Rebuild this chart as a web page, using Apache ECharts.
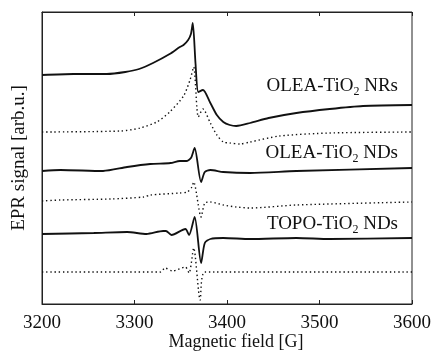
<!DOCTYPE html>
<html>
<head>
<meta charset="utf-8">
<script src="https://cdn.jsdelivr.net/npm/echarts@6/dist/echarts.min.js"></script>
<style>
  html, body { margin: 0; padding: 0; background: #fff; }
  #chart { width: 433px; height: 354px; }
</style>
</head>
<body>
<div id="chart"></div>
<script>
// magnetic field [G] vs EPR signal [arb.u.] (traces offset vertically)
const xTicks = [3200, 3300, 3400, 3500, 3600];
const sampleLabels = ["OLEA-TiO{s|2} NRs", "OLEA-TiO{s|2} NDs", "TOPO-TiO{s|2} NDs"];

// OLEA-TiO2 NRs, measured (solid)
const nrsMeasured = [
  [3200, 229], [3234, 230], [3270, 230], [3290, 232], [3305, 235], [3320, 241],
  [3338, 250], [3349, 257], [3353, 259], [3358, 264], [3361, 270], [3363, 281],
  [3366, 240], [3369, 212], [3374, 214], [3382, 201], [3389, 189], [3396, 182],
  [3403, 179], [3410, 178], [3425, 181], [3445, 186], [3475, 191], [3511, 195],
  [3547, 198], [3600, 199]
];
// OLEA-TiO2 NRs, simulated (dotted)
const nrsSimulated = [
  [3200, 172], [3285, 173], [3306, 176], [3324, 182], [3338, 192], [3353, 208],
  [3360, 224], [3364, 237], [3369, 187], [3374, 195], [3382, 181], [3389, 169],
  [3396, 162], [3403, 161], [3414, 160], [3425, 162], [3457, 168], [3511, 171],
  [3600, 172]
];
// OLEA-TiO2 NDs, measured (solid)
const ndsMeasured = [
  [3200, 133], [3220, 134], [3266, 133], [3292, 137], [3317, 140], [3339, 141],
  [3349, 143], [3356, 143], [3361, 146], [3365, 156], [3372, 122], [3376, 132],
  [3382, 134], [3396, 132], [3425, 131], [3475, 133], [3600, 136]
];
// OLEA-TiO2 NDs, simulated (dotted)
const ndsSimulated = [
  [3200, 103], [3220, 104], [3274, 105], [3310, 107], [3317, 109], [3349, 111],
  [3357, 112], [3362, 117], [3364, 122], [3372, 87], [3376, 101], [3382, 102],
  [3396, 99], [3410, 97], [3425, 96], [3475, 99], [3600, 102]
];
// TOPO-TiO2 NDs, measured (solid)
const topoMeasured = [
  [3200, 70], [3256, 71], [3292, 72], [3313, 70], [3331, 73], [3334, 73],
  [3340, 69], [3355, 75], [3359, 69], [3365, 87], [3372, 41], [3376, 61],
  [3382, 65], [3396, 66], [3425, 65], [3475, 66], [3511, 65], [3600, 66]
];
// TOPO-TiO2 NDs, simulated (dotted)
const topoSimulated = [
  [3200, 32], [3328, 32], [3333, 36], [3341, 33], [3355, 37], [3359, 31],
  [3364, 56], [3371, 4], [3376, 32], [3600, 32]
];

const serif = "'Liberation Serif', 'DejaVu Serif', serif";

const solid = (data) => ({
  type: "line", data: data, symbol: "none", smooth: 0.25,
  lineStyle: { color: "#111", width: 1.8 }
});
const dotted = (data) => ({
  type: "line", data: data, symbol: "none", smooth: 0.25,
  lineStyle: { color: "#111", width: 1.4, type: [1.4, 2.8] }
});

let myChart = echarts.init(document.getElementById("chart"));
myChart.setOption({
  animation: false,
  grid: {
    left: 42, right: 21, top: 12, bottom: 50,
    outerBoundsMode: "none",
    show: true, borderColor: "#222", borderWidth: 1
  },
  xAxis: [
    {
      type: "value", min: 3200, max: 3600, interval: 100,
      name: "Magnetic field [G]", nameLocation: "middle", nameGap: 29,
      nameMoveOverlap: false,
      nameTextStyle: { fontFamily: serif, fontSize: 18, color: "#111", padding: [0, 0, 0, 18] },
      axisLine: { show: true, lineStyle: { color: "#222" } },
      axisTick: { inside: true, length: 4, lineStyle: { color: "#222" } },
      axisLabel: { fontFamily: serif, fontSize: 19, color: "#111", margin: 10,
        formatter: (v) => (xTicks.indexOf(v) >= 0 ? String(v) : "") },
      splitLine: { show: false }
    },
    {
      type: "value", min: 3200, max: 3600, interval: 100, position: "top",
      axisLine: { show: true, lineStyle: { color: "#222" } },
      axisTick: { inside: true, length: 4, lineStyle: { color: "#222" } },
      axisLabel: { show: false },
      splitLine: { show: false }
    }
  ],
  yAxis: {
    type: "value", min: 0, max: 292,
    name: "EPR signal [arb.u.]", nameLocation: "middle", nameGap: 13,
    nameMoveOverlap: false,
    nameTextStyle: { fontFamily: serif, fontSize: 19, color: "#111" },
    axisLine: { show: true, lineStyle: { color: "#222" } },
    axisTick: { show: false },
    axisLabel: { show: false },
    splitLine: { show: false }
  },
  graphic: [
    { y: 88, text: sampleLabels[0] },
    { y: 155, text: sampleLabels[1] },
    { y: 226, text: sampleLabels[2] }
  ].map((g) => ({
    type: "text", right: 35, top: g.y - 11, z: 10,
    style: {
      text: g.text, fontFamily: serif, fontSize: 19, fill: "#111",
      rich: { s: { fontFamily: serif, fontSize: 12, fill: "#111", padding: [10, 0, 0, 0] } }
    }
  })),
  series: [
    solid(nrsMeasured), dotted(nrsSimulated),
    solid(ndsMeasured), dotted(ndsSimulated),
    solid(topoMeasured), dotted(topoSimulated)
  ]
});
</script>
</body>
</html>
